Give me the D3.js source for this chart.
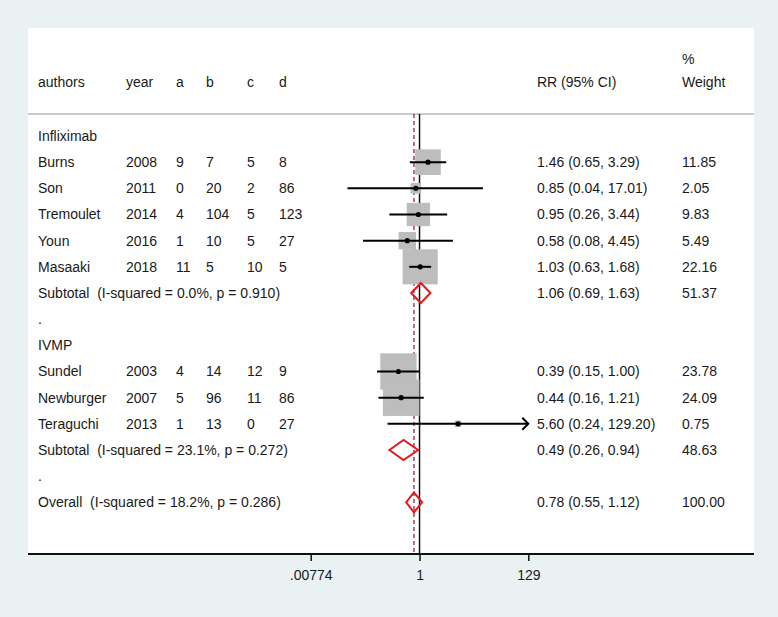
<!DOCTYPE html>
<html><head><meta charset="utf-8">
<script src="https://cdn.jsdelivr.net/npm/d3@7"></script>
<style>
html,body{margin:0;padding:0;background:#e9f1f3;}
text{font-family:"Liberation Sans",Arial,sans-serif;font-size:14px;fill:#1a1a1a;white-space:pre;}
</style></head>
<body>
<svg id="c" width="778" height="617"></svg>
<script>
// ---- data ----
const labels = ["Infliximab","Burns","Son","Tremoulet","Youn","Masaaki",
  "Subtotal  (I-squared = 0.0%, p = 0.910)",".","IVMP","Sundel","Newburger","Teraguchi",
  "Subtotal  (I-squared = 23.1%, p = 0.272)",".","Overall  (I-squared = 18.2%, p = 0.286)"];
const rowType = ["head","study","study","study","study","study","sub","blank","head","study","study","study","sub","blank","sub"];
const years = [null,2008,2011,2014,2016,2018,null,null,null,2003,2007,2013,null,null,null];
const colA = [null,9,0,4,1,11,null,null,null,4,5,1,null,null,null];
const colB = [null,7,20,104,10,5,null,null,null,14,96,13,null,null,null];
const colC = [null,5,2,5,5,10,null,null,null,12,11,0,null,null,null];
const colD = [null,8,86,123,27,5,null,null,null,9,86,27,null,null,null];
const rr   = [null,1.46,0.85,0.95,0.58,1.03,1.06,null,null,0.39,0.44,5.60,0.49,null,0.78];
const lo   = [null,0.65,0.04,0.26,0.08,0.63,0.69,null,null,0.15,0.16,0.24,0.26,null,0.55];
const hi   = [null,3.29,17.01,3.44,4.45,1.68,1.63,null,null,1.00,1.21,129.20,0.94,null,1.12];
const rrText = [null,"1.46 (0.65, 3.29)","0.85 (0.04, 17.01)","0.95 (0.26, 3.44)","0.58 (0.08, 4.45)","1.03 (0.63, 1.68)","1.06 (0.69, 1.63)",null,null,"0.39 (0.15, 1.00)","0.44 (0.16, 1.21)","5.60 (0.24, 129.20)","0.49 (0.26, 0.94)",null,"0.78 (0.55, 1.12)"];
const weight = [null,11.85,2.05,9.83,5.49,22.16,51.37,null,null,23.78,24.09,0.75,48.63,null,100.00];
const weightText = [null,"11.85","2.05","9.83","5.49","22.16","51.37",null,null,"23.78","24.09","0.75","48.63",null,"100.00"];
const tickVals = [0.00774, 1, 129];
const tickLabels = [".00774","1","129"];
const overallRR = 0.78;
const headers = ["authors","year","a","b","c","d"];

// ---- layout ----
const svg = d3.select("#c");
const panel = {x0:28, x1:754, y0:28, y1:554};
const headerLineY = 114;
const x = d3.scaleLog().domain([0.00774,129]).range([310.7,528.3]);
const y = d3.scaleLinear().domain([0,14]).range([136,502.3]);
const colX = [38,126,176,206,247,279];
const rrX = 537, wX = 682;
const base = 5;

svg.append("rect").attr("x",0).attr("y",0).attr("width",778).attr("height",617).attr("fill","#e9f1f3");
svg.append("rect").attr("x",panel.x0).attr("y",panel.y0).attr("width",panel.x1-panel.x0).attr("height",panel.y1-panel.y0).attr("fill","#ffffff");

// header
headers.forEach((h,i)=>svg.append("text").attr("x",colX[i]).attr("y",82+base).text(h));
svg.append("text").attr("x",rrX).attr("y",82+base).text("RR (95% CI)");
svg.append("text").attr("x",wX).attr("y",59+base).text("%");
svg.append("text").attr("x",wX).attr("y",82+base).text("Weight");
svg.append("line").attr("x1",panel.x0).attr("x2",panel.x1).attr("y1",headerLineY).attr("y2",headerLineY)
  .attr("stroke","#b8b8b8").attr("stroke-width",1.5);

// reference lines
svg.append("line").attr("x1",x(overallRR)).attr("x2",x(overallRR)).attr("y1",headerLineY).attr("y2",panel.y1)
  .attr("stroke","#a3203a").attr("stroke-width",1.3).attr("stroke-dasharray","4,3");
svg.append("line").attr("x1",x(1)).attr("x2",x(1)).attr("y1",headerLineY).attr("y2",panel.y1)
  .attr("stroke","#111").attr("stroke-width",1.5);

const idx = d3.range(labels.length);

// left text
idx.forEach(i=>{
  svg.append("text").attr("x",colX[0]).attr("y",y(i)+base).text(labels[i]);
  if(rowType[i]==="study"){
    [years[i],colA[i],colB[i],colC[i],colD[i]].forEach((v,j)=>
      svg.append("text").attr("x",colX[j+1]).attr("y",y(i)+base).text(v));
  }
  if(rrText[i]){
    svg.append("text").attr("x",rrX).attr("y",y(i)+base).text(rrText[i]);
    svg.append("text").attr("x",wX).attr("y",y(i)+base).text(weightText[i]);
  }
});

// boxes
const studies = idx.filter(i=>rowType[i]==="study");
const k = 7.45;
svg.append("g").selectAll("rect").data(studies).join("rect")
  .attr("x",i=>x(rr[i])-k*Math.sqrt(weight[i])/2)
  .attr("y",i=>y(i)-k*Math.sqrt(weight[i])/2)
  .attr("width",i=>k*Math.sqrt(weight[i]))
  .attr("height",i=>k*Math.sqrt(weight[i]))
  .attr("fill","#bdbdbd");

// CI lines
const xmax = x.domain()[1];
svg.append("g").selectAll("line").data(studies).join("line")
  .attr("x1",i=>x(Math.max(lo[i],x.domain()[0])))
  .attr("x2",i=>x(Math.min(hi[i],xmax)))
  .attr("y1",i=>y(i)).attr("y2",i=>y(i))
  .attr("stroke","#000").attr("stroke-width",2);
// arrows for truncated CIs
studies.filter(i=>hi[i]>=xmax).forEach(i=>{
  const ax = x(xmax), ay = y(i);
  svg.append("path").attr("d",`M${ax-6},${ay-6}L${ax},${ay}L${ax-6},${ay+6}`)
    .attr("fill","none").attr("stroke","#000").attr("stroke-width",2);
});
// points
svg.append("g").selectAll("circle").data(studies).join("circle")
  .attr("cx",i=>x(rr[i])).attr("cy",i=>y(i)).attr("r",2.6).attr("fill","#000");

// diamonds
const subs = idx.filter(i=>rowType[i]==="sub");
svg.append("g").selectAll("path").data(subs).join("path")
  .attr("d",i=>`M${x(lo[i])},${y(i)}L${x(rr[i])},${y(i)-10}L${x(hi[i])},${y(i)}L${x(rr[i])},${y(i)+10}Z`)
  .attr("fill","none").attr("stroke","#e31a1c").attr("stroke-width",2);

// axis
svg.append("line").attr("x1",panel.x0).attr("x2",panel.x1).attr("y1",panel.y1).attr("y2",panel.y1)
  .attr("stroke","#111").attr("stroke-width",1.8);
const ax = d3.axisBottom(x).tickValues(tickVals).tickSize(7).tickPadding(9)
  .tickFormat((d,i)=>tickLabels[i]);
const g = svg.append("g").attr("transform",`translate(0,${panel.y1})`).call(ax);
g.select(".domain").remove();
g.selectAll(".tick line").attr("stroke","#111").attr("stroke-width",1.5);
g.selectAll(".tick text").style("font-size","14px").style("fill","#1a1a1a")
  .style("font-family",'"Liberation Sans",Arial,sans-serif');
</script>
</body></html>
